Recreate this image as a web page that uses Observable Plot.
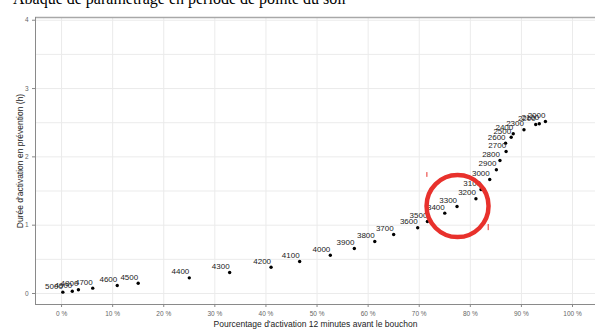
<!DOCTYPE html>
<html><head><meta charset="utf-8">
<script src="https://cdn.jsdelivr.net/npm/d3@7"></script>
<script src="https://cdn.jsdelivr.net/npm/@observablehq/plot@0.6"></script>
<style>
body{margin:0;background:#fff;}
#wrap{position:relative;width:595px;height:334px;overflow:hidden;background:#fff;}
#chart{position:absolute;left:0;top:0;}
#title{position:absolute;left:13px;top:-9px;font:16px "Liberation Serif","Times New Roman",serif;color:#000;white-space:nowrap;line-height:16px;}
</style></head>
<body>
<div id="wrap"><div id="chart"></div><div id="title">Abaque de paramétrage en période de pointe du soir</div></div>
<script>
const thresholds = [5000,4900,4800,4700,4600,4500,4400,4300,4200,4100,4000,3900,3800,3700,3600,3500,3400,3300,3200,3100,3000,2900,2800,2700,2600,2500,2400,2300,2200,2100,2000];
const pct = [0.25,2.1,3.3,6.1,10.9,15.0,25.0,32.9,41.0,46.6,52.6,57.3,61.3,65.0,69.7,71.6,75.0,77.4,81.1,82.1,83.8,85.1,85.8,87.0,86.9,88.0,88.4,90.5,92.8,93.5,94.7];
const hours = [0.02,0.034,0.054,0.078,0.117,0.151,0.229,0.307,0.385,0.469,0.561,0.659,0.761,0.864,0.962,1.054,1.176,1.274,1.387,1.523,1.669,1.811,1.947,2.079,2.201,2.288,2.338,2.397,2.474,2.485,2.518];
const xTicks = [0,10,20,30,40,50,60,70,80,90,100];
const yTicks = [0,1,2,3,4];
const yGrid = [0,0.5,1,1.5,2,2.5,3,3.5,4];
const xDomain = [-5.1, 104.5];
const yDomain = [-0.161, 4.04];
const xLabel = "Pourcentage d'activation 12 minutes avant le bouchon";
const yLabel = "Durée d'activation en prévention (h)";
// annotation (red highlight)
const highlight = [{x: 77.5, y: 1.28}];
const redTicks = [{x: 71.5, y1: 1.70, y2: 1.77}, {x: 83.5, y1: 0.92, y2: 1.01}];

const data = thresholds.map((t, i) => ({label: String(t), x: pct[i], y: hours[i]}));

const chart = Plot.plot({
  width: 595, height: 334,
  marginLeft: 35, marginRight: 0, marginTop: 17, marginBottom: 30,
  style: {fontFamily: "'Liberation Sans', Arial, sans-serif", background: "#fff", overflow: "visible"},
  x: {domain: xDomain, ticks: xTicks},
  y: {domain: yDomain, ticks: yTicks},
  marks: [
    Plot.gridY(yGrid, {stroke: "#ebebeb", strokeOpacity: 1, strokeWidth: 1}),
    Plot.gridX(xTicks, {stroke: "#ebebeb", strokeOpacity: 1, strokeWidth: 1}),
    Plot.ruleY([yDomain[1]], {stroke: "#a8a8a8", strokeWidth: 1.5}),
    Plot.ruleX([xDomain[0]], {stroke: "#8a8a8a", strokeWidth: 1}),
    Plot.ruleY([yDomain[0]], {stroke: "#8a8a8a", strokeWidth: 1}),
    Plot.axisX(xTicks, {tickSize: 3, tickPadding: 4, tickFormat: d => d + " %", fontSize: 6.5, fill: "#666", stroke: "#888", label: null}),
    Plot.axisY(yTicks, {tickSize: 3, tickPadding: 4, tickFormat: d => String(d), fontSize: 6.5, fill: "#666", stroke: "#888", label: null}),
    Plot.text([xLabel], {frameAnchor: "bottom", dy: 22, fontSize: 8.5, fill: "#222"}),
    Plot.text([yLabel], {frameAnchor: "left", textAnchor: "middle", dx: -15, rotate: -90, fontSize: 8.5, fill: "#222"}),
    Plot.dot(data, {x: "x", y: "y", r: 1.7, fill: "#000", stroke: "none"}),
    Plot.text(data, {x: "x", y: "y", text: "label", textAnchor: "end", dy: -6, fontSize: 8, fill: "#222"}),
    Plot.ruleX(redTicks, {x: "x", y1: "y1", y2: "y2", stroke: "#e8312c", strokeWidth: 1}),
    Plot.dot(highlight, {x: "x", y: "y", r: 31, stroke: "#e8312c", strokeWidth: 4.5, fill: "none"})
  ]
});
document.getElementById("chart").appendChild(chart);
</script>
</body></html>
